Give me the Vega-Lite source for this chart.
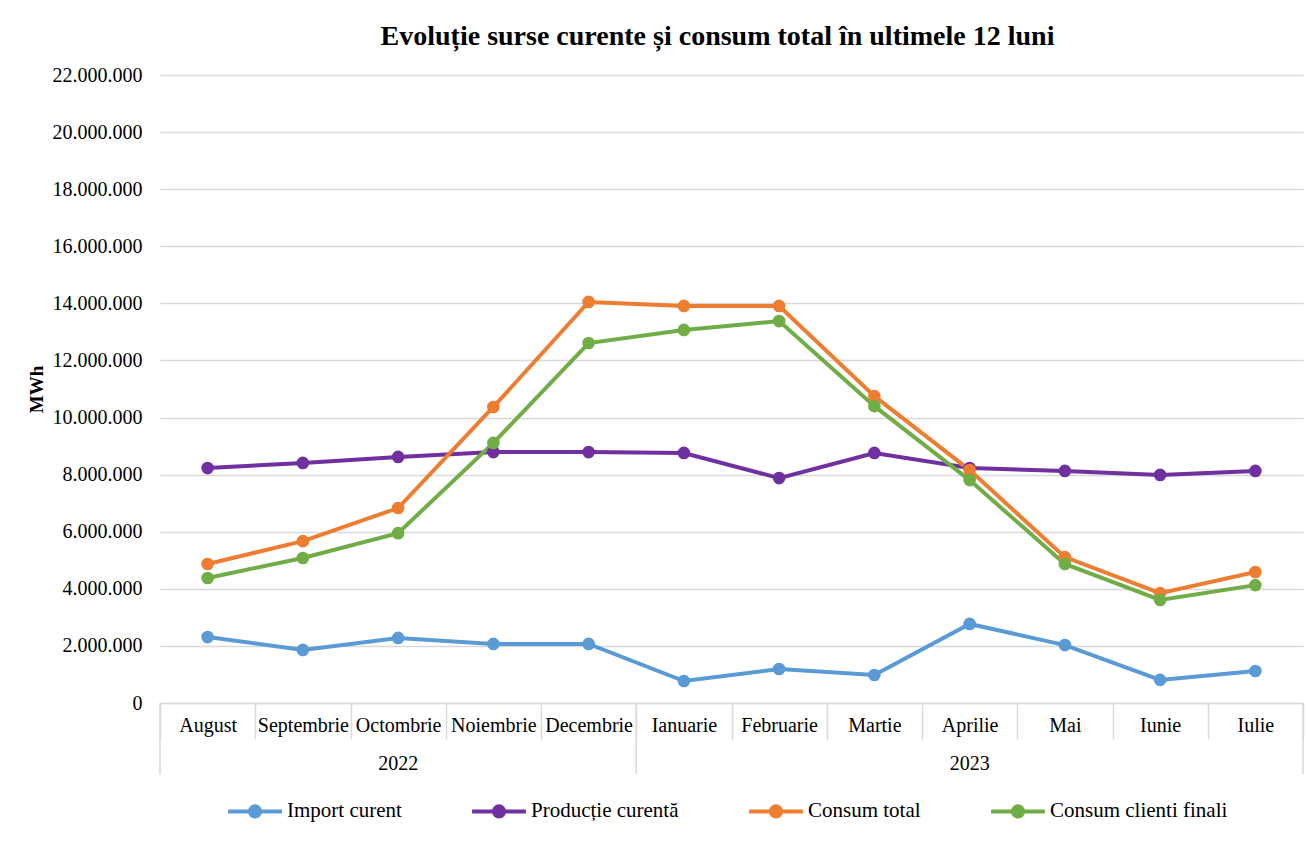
{
  "$schema": "https://vega.github.io/schema/vega-lite/v6.json",
  "autosize": {"type": "none"},
  "width": 1143,
  "height": 628,
  "padding": {"left": 160, "top": 75, "right": 5, "bottom": 138},
  "background": "white",
  "config": {
    "locale": {"number": {"decimal": ",", "thousands": ".", "grouping": [3], "currency": ["", ""]}},
    "view": {"stroke": null},
    "font": "Liberation Serif"
  },
  "title": {
    "text": "Evoluție surse curente și consum total în ultimele 12 luni",
    "font": "Liberation Serif",
    "fontSize": 28,
    "fontWeight": "bold",
    "color": "#000000",
    "anchor": "middle",
    "dx": -14,
    "offset": 14
  },
  "datasets": {
    "main": [
      {"m": "August", "s": "Import curent", "v": 2310000},
      {"m": "Septembrie", "s": "Import curent", "v": 1860000},
      {"m": "Octombrie", "s": "Import curent", "v": 2280000},
      {"m": "Noiembrie", "s": "Import curent", "v": 2070000},
      {"m": "Decembrie", "s": "Import curent", "v": 2070000},
      {"m": "Ianuarie", "s": "Import curent", "v": 770000},
      {"m": "Februarie", "s": "Import curent", "v": 1190000},
      {"m": "Martie", "s": "Import curent", "v": 980000},
      {"m": "Aprilie", "s": "Import curent", "v": 2770000},
      {"m": "Mai", "s": "Import curent", "v": 2030000},
      {"m": "Iunie", "s": "Import curent", "v": 810000},
      {"m": "Iulie", "s": "Import curent", "v": 1120000},
      {"m": "August", "s": "Producție curentă", "v": 8230000},
      {"m": "Septembrie", "s": "Producție curentă", "v": 8410000},
      {"m": "Octombrie", "s": "Producție curentă", "v": 8620000},
      {"m": "Noiembrie", "s": "Producție curentă", "v": 8790000},
      {"m": "Decembrie", "s": "Producție curentă", "v": 8790000},
      {"m": "Ianuarie", "s": "Producție curentă", "v": 8760000},
      {"m": "Februarie", "s": "Producție curentă", "v": 7880000},
      {"m": "Martie", "s": "Producție curentă", "v": 8760000},
      {"m": "Aprilie", "s": "Producție curentă", "v": 8230000},
      {"m": "Mai", "s": "Producție curentă", "v": 8130000},
      {"m": "Iunie", "s": "Producție curentă", "v": 7990000},
      {"m": "Iulie", "s": "Producție curentă", "v": 8130000},
      {"m": "August", "s": "Consum total", "v": 4870000},
      {"m": "Septembrie", "s": "Consum total", "v": 5670000},
      {"m": "Octombrie", "s": "Consum total", "v": 6830000},
      {"m": "Noiembrie", "s": "Consum total", "v": 10370000},
      {"m": "Decembrie", "s": "Consum total", "v": 14050000},
      {"m": "Ianuarie", "s": "Consum total", "v": 13910000},
      {"m": "Februarie", "s": "Consum total", "v": 13910000},
      {"m": "Martie", "s": "Consum total", "v": 10750000},
      {"m": "Aprilie", "s": "Consum total", "v": 8160000},
      {"m": "Mai", "s": "Consum total", "v": 5110000},
      {"m": "Iunie", "s": "Consum total", "v": 3850000},
      {"m": "Iulie", "s": "Consum total", "v": 4590000},
      {"m": "August", "s": "Consum clienti finali", "v": 4380000},
      {"m": "Septembrie", "s": "Consum clienti finali", "v": 5080000},
      {"m": "Octombrie", "s": "Consum clienti finali", "v": 5950000},
      {"m": "Noiembrie", "s": "Consum clienti finali", "v": 9110000},
      {"m": "Decembrie", "s": "Consum clienti finali", "v": 12610000},
      {"m": "Ianuarie", "s": "Consum clienti finali", "v": 13070000},
      {"m": "Februarie", "s": "Consum clienti finali", "v": 13380000},
      {"m": "Martie", "s": "Consum clienti finali", "v": 10400000},
      {"m": "Aprilie", "s": "Consum clienti finali", "v": 7810000},
      {"m": "Mai", "s": "Consum clienti finali", "v": 4870000},
      {"m": "Iunie", "s": "Consum clienti finali", "v": 3610000},
      {"m": "Iulie", "s": "Consum clienti finali", "v": 4130000}
    ],
    "startBounds": [{"m": "August"}, {"m": "Ianuarie"}],
    "endBounds": [{"m": "Iulie"}]
  },
  "resolve": {"axis": {"x": "independent"}},
  "layer": [
    {
      "data": {"name": "main"},
      "mark": {"type": "line", "strokeWidth": 4},
      "encoding": {
        "x": {
          "field": "m", "type": "ordinal", "bandPosition": 0.5,
          "scale": {"type": "band", "paddingInner": 0, "paddingOuter": 0,
            "domain": ["August", "Septembrie", "Octombrie", "Noiembrie", "Decembrie", "Ianuarie", "Februarie", "Martie", "Aprilie", "Mai", "Iunie", "Iulie"]},
          "axis": {
            "orient": "bottom",
            "title": null, "labelAngle": 0, "labelFont": "Liberation Serif", "labelFontSize": 20, "labelColor": "#000000",
            "tickBand": "extent", "tickSize": 36, "tickColor": "#d9d9d9", "tickWidth": 1.5,
            "domainColor": "#d9d9d9", "domainWidth": 1.5, "labelPadding": -24, "grid": false
          }
        },
        "y": {
          "field": "v", "type": "quantitative",
          "scale": {"domain": [0, 22000000], "nice": false, "zero": true},
          "axis": {
            "title": "MWh", "titleFont": "Liberation Serif", "titleFontSize": 19, "titleFontWeight": "bold", "titleColor": "#000000",
            "titlePadding": 6,
            "values": [0, 2000000, 4000000, 6000000, 8000000, 10000000, 12000000, 14000000, 16000000, 18000000, 20000000, 22000000],
            "format": ",.0f", "labelFont": "Liberation Serif", "labelFontSize": 20, "labelColor": "#000000",
            "labelPadding": 18, "ticks": false, "domain": false,
            "grid": true, "gridColor": "#d9d9d9", "gridWidth": 1.5
          }
        },
        "color": {
          "field": "s", "type": "nominal",
          "scale": {"domain": ["Import curent", "Producție curentă", "Consum total", "Consum clienti finali"],
                    "range": ["#5B9BD5", "#7030A0", "#ED7D31", "#70AD47"]},
          "legend": {
            "title": null, "orient": "none", "legendX": 66, "legendY": 707, "direction": "horizontal", "columns": 4,
            "labelFont": "Liberation Serif", "labelFontSize": 21, "labelColor": "#000000", "labelLimit": 400,
            "symbolType": "M-1,0H1M-0.19,0A0.19,0.19,0,1,0,0.19,0A0.19,0.19,0,1,0,-0.19,0Z",
            "symbolSize": 2900, "symbolStrokeWidth": 4, "columnPadding": 62, "labelOffset": 3,
            "encode": {"symbols": {"update": {"fill": {"scale": "color", "field": "value"}, "stroke": {"scale": "color", "field": "value"}, "opacity": {"value": 1}}}}
          }
        },
        "order": {"field": "s"}
      }
    },
    {
      "data": {"name": "main"},
      "mark": {"type": "circle", "size": 160, "opacity": 1},
      "encoding": {
        "x": {"field": "m", "type": "ordinal", "bandPosition": 0.5, "axis": null},
        "y": {"field": "v", "type": "quantitative"},
        "color": {"field": "s", "type": "nominal"}
      }
    },
    {
      "data": {"name": "startBounds"},
      "mark": {"type": "rule", "color": "#d9d9d9", "strokeWidth": 1.5},
      "encoding": {
        "x": {"field": "m", "type": "ordinal", "bandPosition": 0,
          "axis": {"orient": "bottom", "title": null, "labelAngle": 0, "labelFont": "Liberation Serif", "labelFontSize": 20, "labelColor": "#000000",
                   "ticks": false, "domain": false, "grid": false, "labelPadding": 50,
                   "labelExpr": "datum.value == 'Octombrie' ? '2022' : (datum.value == 'Aprilie' ? '2023' : '')"}},
        "y": {"datum": 0, "type": "quantitative"},
        "y2": {"datum": -2500000}
      }
    },
    {
      "data": {"name": "endBounds"},
      "mark": {"type": "rule", "color": "#d9d9d9", "strokeWidth": 1.5},
      "encoding": {
        "x": {"field": "m", "type": "ordinal", "bandPosition": 1, "axis": null},
        "y": {"datum": 0, "type": "quantitative"},
        "y2": {"datum": -2500000}
      }
    }
  ]
}
